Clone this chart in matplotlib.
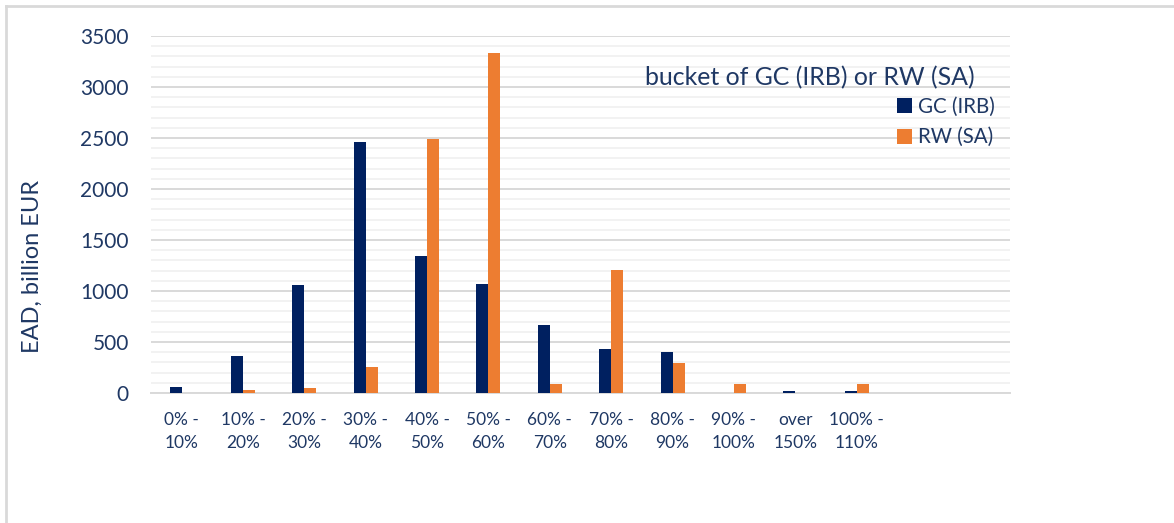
import numpy as np
import matplotlib.pyplot as plt
from matplotlib.ticker import MultipleLocator

categories = ['0% -\n10%', '10% -\n20%', '20% -\n30%', '30% -\n40%', '40% -\n50%',
              '50% -\n60%', '60% -\n70%', '70% -\n80%', '80% -\n90%', '90% -\n100%',
              'over\n150%', '100% -\n110%', '', '']
gc_irb = [55, 367, 1063, 2460, 1343, 1069, 669, 434, 400, 0, 15, 22, 0, 0]
rw_sa = [0, 33, 46, 252, 2490, 3330, 85, 1205, 290, 85, 0, 93, 0, 0]

navy = '#002060'
orange = '#ED7D31'
txt = '#1F3864'

plt.rcParams['font.family'] = ['Lato', 'DejaVu Sans']

W, H = 1174, 523
fig = plt.figure(figsize=(W/100, H/100), dpi=100)
ax = fig.add_axes([151/W, 1 - 393/H, 859/W, 357/H])

x = np.arange(len(categories))
w = 0.195
ax.bar(x - w/2, gc_irb, w, color=navy, label='GC (IRB)', zorder=3)
ax.bar(x + w/2, rw_sa, w, color=orange, label='RW (SA)', zorder=3)

ax.set_xlim(-0.5, len(categories) - 0.5)
ax.set_ylim(0, 3500)
ax.yaxis.set_major_locator(MultipleLocator(500))
ax.yaxis.set_minor_locator(MultipleLocator(100))
ax.grid(axis='y', which='major', color='#D9D9D9', lw=1.4, zorder=0)
ax.grid(axis='y', which='minor', color='#F2F2F2', lw=1.4, zorder=0)
ax.tick_params(axis='both', which='both', length=0)
ax.tick_params(axis='y', labelsize=15, labelcolor=txt, pad=16)
ax.tick_params(axis='x', labelsize=12.5, labelcolor=txt, pad=14)
ax.set_xticks(x)
ax.set_xticklabels(categories, linespacing=1.5)
for s in ['top', 'right', 'left']:
    ax.spines[s].set_visible(False)
ax.spines['bottom'].set_color('#D9D9D9')
ax.spines['bottom'].set_linewidth(1.4)

ax.set_ylabel('EAD, billion EUR', fontsize=17, color=txt)
ax.yaxis.set_label_coords(-(151 - 43)/859, (393 - 266)/357)

# legend title drawn separately (it sits left of the entries)
fig.text(975/W, 1 - 78/H, 'bucket of GC (IRB) or RW (SA)', ha='right', va='center',
         fontsize=17.9, color=txt)
leg = ax.legend(loc='upper right', bbox_to_anchor=(995/W, 1 - 97/H),
                bbox_transform=fig.transFigure, frameon=False, fontsize=14.8,
                borderpad=0, borderaxespad=0, handlelength=0.75,
                handleheight=0.75, handletextpad=0.3, labelspacing=0.5)
for t in leg.get_texts():
    t.set_color(txt)

# outer border (top and left edges visible)
fig.add_artist(plt.Line2D([6/W, 1], [1 - 6/H, 1 - 6/H], color='#D9D9D9', lw=2))
fig.add_artist(plt.Line2D([6/W, 6/W], [0, 1 - 6/H], color='#D9D9D9', lw=2))

fig.savefig('out.png', dpi=100)
